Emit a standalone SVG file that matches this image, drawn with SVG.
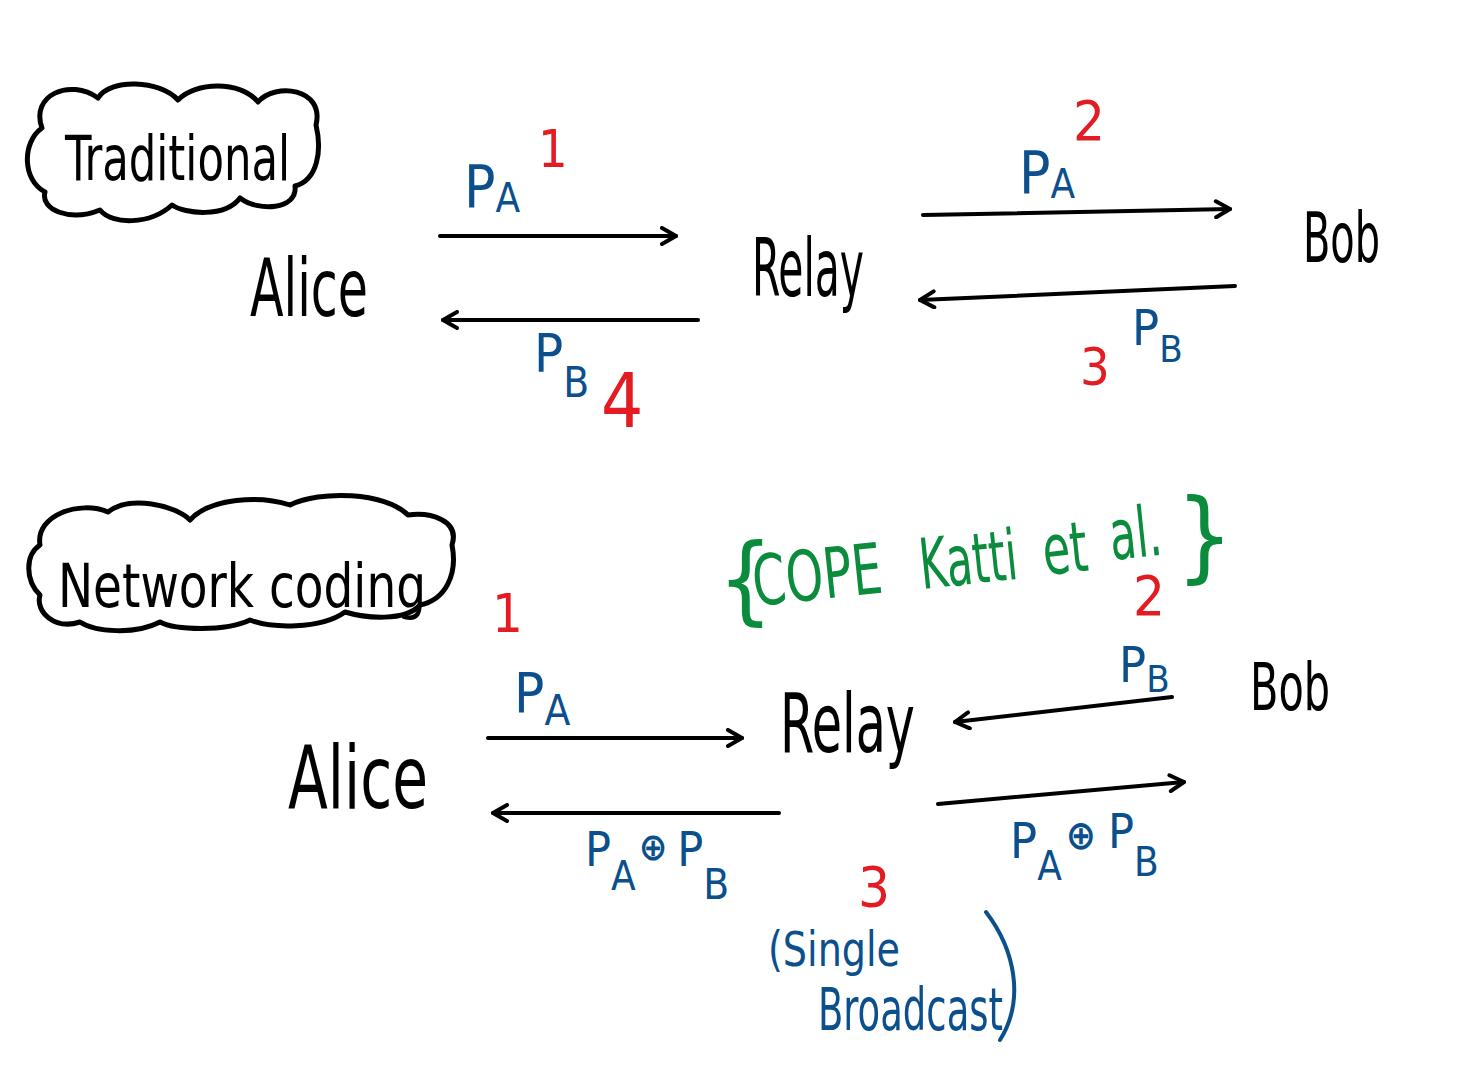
<svg xmlns="http://www.w3.org/2000/svg" width="1459" height="1074" viewBox="0 0 1459 1074">
<style>
.hw{font-family:"Liberation Sans Narrow","DejaVu Sans Condensed","Liberation Sans",sans-serif;}
.k{fill:#000}
.b{fill:#0b4f8c}
.r{fill:#e31b23}
.g{fill:#0a8c3c}
.cloud{fill:none;stroke:#000;stroke-width:5;stroke-linejoin:round;stroke-linecap:round}
.ar{fill:none;stroke:#000;stroke-width:4;stroke-linecap:round}
</style>
<defs>
<marker id="h" viewBox="0 0 20 20" refX="18" refY="10" markerWidth="20" markerHeight="20" markerUnits="userSpaceOnUse" orient="auto">
<path d="M4,2 L18,10 L4,18" fill="none" stroke="#000" stroke-width="4" stroke-linecap="round" stroke-linejoin="round"/>
</marker>
</defs>
<rect width="1459" height="1074" fill="#fff"/>

<g id="traditional-title">
<path class="cloud" d="M42,128 C30,95 70,78 98,98 C110,78 160,80 178,100 C195,82 240,80 258,102 C275,82 325,88 316,125 C322,150 318,180 295,186 C298,210 258,212 240,198 C225,218 185,214 172,205 C150,225 112,225 100,210 C70,222 40,210 45,192 C22,180 22,142 42,128 Z"/>
<text class="hw k" x="65" y="180" font-size="62" textLength="225" lengthAdjust="spacingAndGlyphs">Traditional</text>
</g>

<g id="alice-top"><text class="hw k" x="250" y="316" font-size="80" textLength="118" lengthAdjust="spacingAndGlyphs">Alice</text></g>
<g id="relay-top"><text class="hw k" x="752" y="296" font-size="80" textLength="112" lengthAdjust="spacingAndGlyphs">Relay</text></g>
<g id="bob-top"><text class="hw k" x="1303" y="262" font-size="70" textLength="77" lengthAdjust="spacingAndGlyphs">Bob</text></g>

<g id="network-coding-title">
<path class="cloud" d="M40,545 C35,515 80,500 108,512 C130,495 175,505 190,520 C210,498 260,495 290,505 C320,490 385,492 408,515 C430,512 460,520 452,545 C458,575 445,600 420,605 C405,622 365,618 345,612 C320,630 270,628 250,620 C225,632 175,630 160,622 C135,635 95,632 80,622 C55,630 35,612 40,595 C25,580 25,555 40,545 Z"/>
<text class="hw k" x="58" y="607" font-size="60" textLength="368" lengthAdjust="spacingAndGlyphs">Network coding</text>
</g>

<g id="cope-note">
<text class="hw g" x="718" y="612" font-size="96">{</text>
<text class="hw g" x="755" y="606" font-size="70" textLength="130" lengthAdjust="spacingAndGlyphs" transform="rotate(-6 755 606)">COPE</text>
<text class="hw g" x="922" y="589" font-size="70" textLength="98" lengthAdjust="spacingAndGlyphs" transform="rotate(-6 922 589)">Katti</text>
<text class="hw g" x="1045" y="575" font-size="70" textLength="45" lengthAdjust="spacingAndGlyphs" transform="rotate(-6 1045 575)">et</text>
<text class="hw g" x="1112" y="560" font-size="70" textLength="52" lengthAdjust="spacingAndGlyphs" transform="rotate(-6 1112 560)">al.</text>
<text class="hw g" x="1176" y="570" font-size="100">}</text>
</g>

<g id="alice-bottom"><text class="hw k" x="288" y="808" font-size="88" textLength="140" lengthAdjust="spacingAndGlyphs">Alice</text></g>
<g id="relay-bottom"><text class="hw k" x="780" y="752" font-size="82" textLength="135" lengthAdjust="spacingAndGlyphs">Relay</text></g>
<g id="bob-bottom"><text class="hw k" x="1250" y="710" font-size="66" textLength="80" lengthAdjust="spacingAndGlyphs">Bob</text></g>

<g id="connectors">
<line class="ar" x1="440" y1="236" x2="676" y2="236" marker-end="url(#h)"/>
<line class="ar" x1="923" y1="215" x2="1230" y2="209" marker-end="url(#h)"/>
<line class="ar" x1="1235" y1="286" x2="920" y2="300" marker-end="url(#h)"/>
<line class="ar" x1="698" y1="320" x2="443" y2="320" marker-end="url(#h)"/>
<line class="ar" x1="488" y1="738" x2="742" y2="738" marker-end="url(#h)"/>
<line class="ar" x1="1172" y1="697" x2="955" y2="722" marker-end="url(#h)"/>
<line class="ar" x1="779" y1="813" x2="493" y2="813" marker-end="url(#h)"/>
<line class="ar" x1="938" y1="804" x2="1184" y2="782" marker-end="url(#h)"/>
</g>

<g id="labels">
<text class="hw b" x="464" y="207" font-size="58">P<tspan dy="5" font-size="40">A</tspan></text>
<text class="hw r" x="538" y="167" font-size="52">1</text>

<text class="hw b" x="1019" y="193" font-size="58">P<tspan dy="5" font-size="40">A</tspan></text>
<text class="hw r" x="1073" y="140" font-size="56">2</text>

<text class="hw b" x="1132" y="345" font-size="50">P<tspan dy="17" font-size="38">B</tspan></text>
<text class="hw r" x="1080" y="385" font-size="52">3</text>

<text class="hw b" x="534" y="372" font-size="54">P<tspan dy="25" font-size="42">B</tspan></text>
<text class="hw r" x="601" y="427" font-size="74">4</text>

<text class="hw r" x="492" y="632" font-size="54">1</text>
<text class="hw b" x="514" y="712" font-size="56">P<tspan dy="13" font-size="42">A</tspan></text>

<text class="hw r" x="1133" y="615" font-size="56">2</text>
<text class="hw b" x="1119" y="682" font-size="50">P<tspan dy="10" font-size="38">B</tspan></text>

<text class="hw b" x="585" y="866" font-size="48">P<tspan dy="24" font-size="40">A</tspan><tspan dx="3" dy="-30" font-size="38" font-weight="bold">⊕</tspan><tspan dx="10" dy="6" font-size="48">P</tspan><tspan dy="33" font-size="42">B</tspan></text>

<text class="hw b" x="1010" y="858" font-size="50">P<tspan dy="22" font-size="40">A</tspan><tspan dx="4" dy="-31" font-size="40" font-weight="bold">⊕</tspan><tspan dx="12" dy="-1" font-size="48">P</tspan><tspan dy="28" font-size="40">B</tspan></text>

<text class="hw r" x="858" y="906" font-size="56">3</text>
<text class="hw b" x="768" y="966" font-size="48" textLength="132" lengthAdjust="spacingAndGlyphs">(Single</text>
<text class="hw b" x="818" y="1030" font-size="58" textLength="185" lengthAdjust="spacingAndGlyphs">Broadcast</text>
<path d="M986,912 C1015,950 1025,1000 1000,1040" fill="none" stroke="#0b4f8c" stroke-width="4" stroke-linecap="round"/>
</g>
</svg>
